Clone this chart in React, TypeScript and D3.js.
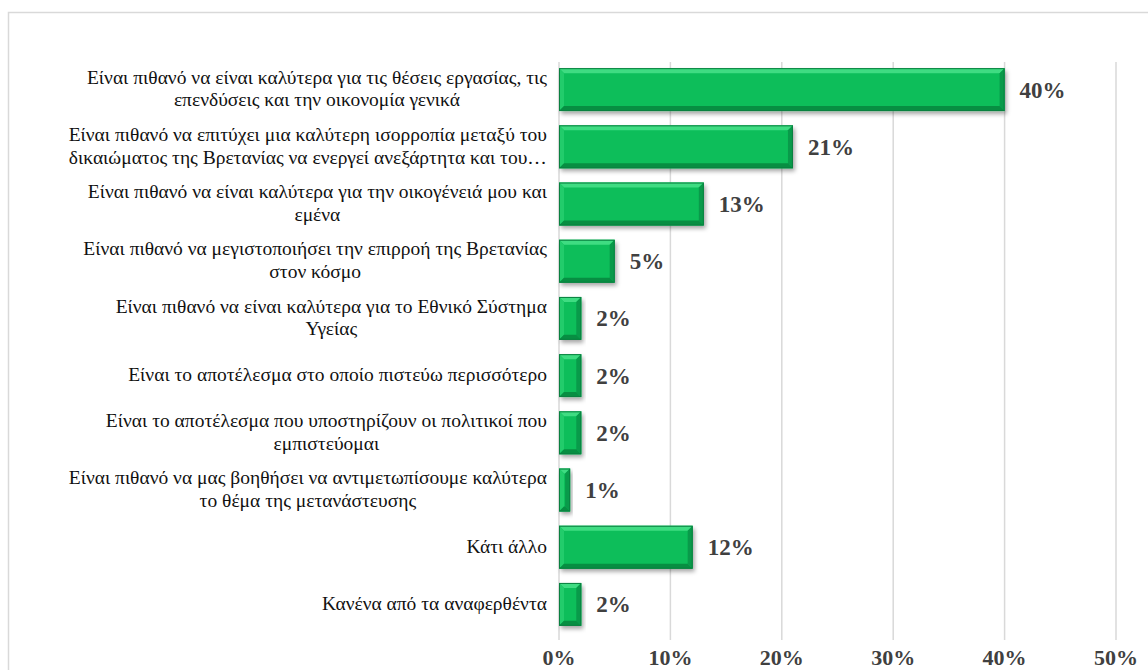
import * as d3 from "d3";
import { useEffect, useState } from "react";

const categories: string[][] = [
  ["Είναι πιθανό να είναι καλύτερα για τις θέσεις εργασίας, τις", "επενδύσεις και την οικονομία γενικά"],
  ["Είναι πιθανό να επιτύχει μια καλύτερη ισορροπία μεταξύ του", "δικαιώματος της Βρετανίας να ενεργεί ανεξάρτητα και του…"],
  ["Είναι πιθανό να είναι καλύτερα για την οικογένειά μου και", "εμένα"],
  ["Είναι πιθανό να μεγιστοποιήσει την επιρροή της Βρετανίας", "στον κόσμο"],
  ["Είναι πιθανό να είναι καλύτερα για το Εθνικό Σύστημα", "Υγείας"],
  ["Είναι το αποτέλεσμα στο οποίο πιστεύω περισσότερο"],
  ["Είναι το αποτέλεσμα που υποστηρίζουν οι πολιτικοί που", "εμπιστεύομαι"],
  ["Είναι πιθανό να μας βοηθήσει να αντιμετωπίσουμε καλύτερα", "το θέμα της μετανάστευσης"],
  ["Κάτι άλλο"],
  ["Κανένα από τα αναφερθέντα"],
];
const values = [40, 21, 13, 5, 2, 2, 2, 1, 12, 2];
const ticks = [0, 10, 20, 30, 40, 50];

const W = 1148;
const H = 670;
const FONT = "Liberation Serif, Times New Roman, serif";
const LABEL_SIZE = 19.5;

const x = d3.scaleLinear([0, 50], [559, 1116]);
const y = d3
  .scaleBand<number>(d3.range(values.length), [61, 633])
  .paddingInner(0.25)
  .paddingOuter(0.125);

let ctx: CanvasRenderingContext2D | null = null;
function textWidth(s: string) {
  if (!ctx) ctx = document.createElement("canvas").getContext("2d");
  if (!ctx) return s.length * 8.5;
  ctx.font = `${LABEL_SIZE}px "Liberation Serif", serif`;
  return ctx.measureText(s).width;
}

function Bar({ v, i }: { v: number; i: number }) {
  const w = x(v) - x(0);
  const h = y.bandwidth();
  const b = Math.min(5, w / 2);
  return (
    <g transform={`translate(${x(0)},${y(i)})`}>
      <rect width={w} height={h} fill="#0BBE5A" filter="url(#shadow)" />
      <polygon points={`0,0 ${w},0 ${w - b},${b} ${b},${b}`} fill="#3FDC82" />
      <polygon points={`0,0 ${b},${b} ${b},${h - b} 0,${h}`} fill="#22CC6B" />
      <polygon points={`${w},0 ${w},${h} ${w - b},${h - b} ${w - b},${b}`} fill="#099A4A" />
      <polygon points={`0,${h} ${b},${h - b} ${w - b},${h - b} ${w},${h}`} fill="#078E42" />
      <rect x={0.5} y={0.5} width={Math.max(w - 1, 0)} height={h - 1} fill="none" stroke="#0A8040" />
    </g>
  );
}

export default function App() {
  const [ver, setVer] = useState(0);

  useEffect(() => {
    document.body.style.margin = "0";
    // make sure the serif face is loaded, then re-render the text
    const fs = (document as any).fonts;
    if (fs && fs.load) {
      Promise.all([
        fs.load(`${LABEL_SIZE}px "Liberation Serif"`, "Είναι 40%"),
        fs.load(`bold 22px "Liberation Serif"`, "40%"),
      ]).then(() => setVer(1)).catch(() => setVer(1));
    }
  }, []);

  const right = 547;
  const lh = 22.5;

  return (
    <svg key={ver} width={W} height={H} style={{ display: "block", fontFamily: FONT }}>
      <defs>
        <filter id="shadow" x="-10%" y="-20%" width="130%" height="160%">
          <feDropShadow dx={2} dy={3} stdDeviation={2} floodColor="#000" floodOpacity={0.35} />
        </filter>
      </defs>
      <rect width={W} height={H} fill="#fff" />
      <rect x={8.5} y={12.5} width={1300} height={800} fill="none" stroke="#D9D9D9" strokeWidth={1.5} />

      {ticks.map(t => (
        <line key={t} x1={x(t)} x2={x(t)} y1={62} y2={640} stroke="#D9D9D9" strokeWidth={1.5} />
      ))}
      {ticks.map(t => (
        <text key={t} x={x(t)} y={665} textAnchor="middle"
          fontFamily={FONT} fontWeight="bold" fontSize={22} fill="#404040">
          {`${t}%`}
        </text>
      ))}

      {values.map((v, i) => <Bar key={i} v={v} i={i} />)}

      {values.map((v, i) => (
        <text key={i} x={x(v) + 15} y={(y(i) ?? 0) + y.bandwidth() / 2 + 8}
          fontFamily={FONT} fontWeight="bold" fontSize={23} fill="#404040">
          {`${v}%`}
        </text>
      ))}

      {categories.map((lines, i) => {
        const cy = (y(i) ?? 0) + y.bandwidth() / 2;
        const bw = d3.max(lines, textWidth) ?? 0;
        return (
          <g key={i}>
            {lines.map((ln, k) => (
              <text key={k} x={right - bw / 2} y={cy + (k - (lines.length - 1) / 2) * lh + 5.5}
                textAnchor="middle" fontFamily={FONT} fontSize={LABEL_SIZE} fill="#111">
                {ln}
              </text>
            ))}
          </g>
        );
      })}
    </svg>
  );
}
